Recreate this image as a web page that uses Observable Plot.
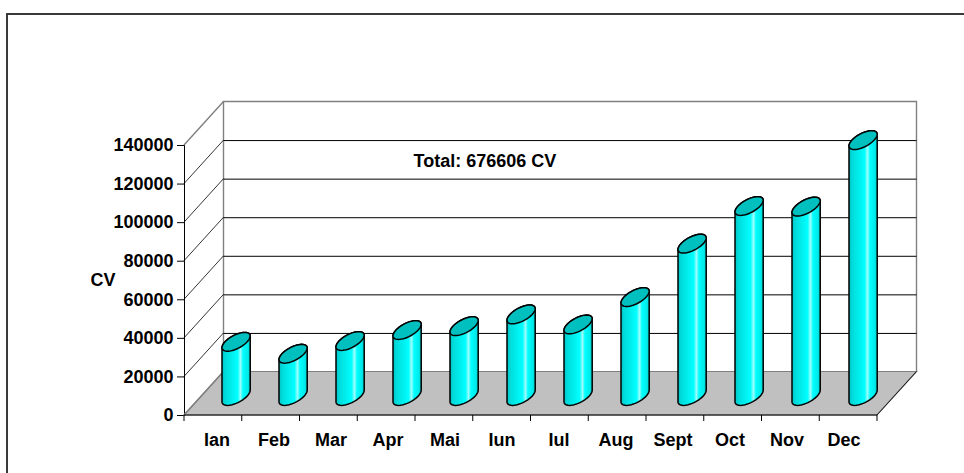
<!DOCTYPE html>
<html><head><meta charset="utf-8">
<script src="https://cdn.jsdelivr.net/npm/d3@7"></script>
<script src="https://cdn.jsdelivr.net/npm/@observablehq/plot@0.6"></script>
<style>
body{margin:0;background:#fff;}
#wrap{position:relative;width:964px;height:473px;overflow:hidden;}
#border{position:absolute;left:6px;top:13px;width:1000px;height:600px;border-left:2px solid #3a3a3a;border-top:2px solid #3a3a3a;}
#chart{position:absolute;left:0;top:0;}
</style></head><body>
<div id="wrap"><div id="border"></div><div id="chart"></div></div>
<script>
// ---- data ----
const months = ["Ian","Feb","Mar","Apr","Mai","Iun","Iul","Aug","Sept","Oct","Nov","Dec"];
const values = [28100, 21900, 28500, 34200, 36200, 42300, 37100, 51300, 79000, 98500, 98200, 132700];
const yTicks = [0, 20000, 40000, 60000, 80000, 100000, 120000, 140000];
const axisTitle = "CV";
const totalLabel = "Total: 676606 CV";

const data = months.map((m, i) => ({month: m, value: values[i]}));

// ---- 3D look (styles) ----
const DEPTH = {dx: 39.5, dy: 43.5};
const CYL = {dx: 19.6, dy: -19, a: 11.1, b: 8.7, c: 9.4};

class Walls extends Plot.Mark {
  constructor(data, options = {}) {
    super(data, {y: {value: options.y, scale: "y"}}, options, {ariaLabel: "walls"});
    this.n = options.n;
  }
  render(index, scales, values, dimensions) {
    const {width, marginLeft: ml, marginRight: mr} = dimensions;
    const Y = Array.from(values.y, v => typeof v === "number" ? v : scales.y(v));
    const x0 = ml, x1 = width - mr;
    const yb = d3.max(Y), yt = d3.min(Y);
    const {dx, dy} = DEPTH;
    const g = d3.create("svg:g");
    g.append("polygon")
      .attr("points", [[x0,yb],[x1,yb],[x1+dx,yb-dy],[x0+dx,yb-dy]].map(p => p.join(",")).join(" "))
      .attr("fill", "#c0c0c0").attr("stroke", "#808080").attr("stroke-width", 1.2);
    g.append("polyline")
      .attr("points", [[x0+dx,yb-dy],[x0+dx,yt-dy],[x1+dx,yt-dy],[x1+dx,yb-dy]].map(p => p.join(",")).join(" "))
      .attr("fill", "none").attr("stroke", "#808080").attr("stroke-width", 1.4);
    for (const i of index) {
      const yy = Y[i];
      const isEdge = yy === yb || yy === yt;
      g.append("line").attr("x1", x0).attr("y1", yy).attr("x2", x0+dx).attr("y2", yy-dy)
        .attr("stroke", isEdge ? "#808080" : "#000").attr("stroke-width", isEdge ? 1.4 : 0.8);
    }
    g.append("line").attr("x1", x0).attr("y1", yb).attr("x2", x1).attr("y2", yb)
      .attr("stroke", "#000").attr("stroke-width", 1);
    g.append("line").attr("x1", x1).attr("y1", yb).attr("x2", x1+dx).attr("y2", yb-dy)
      .attr("stroke", "#000").attr("stroke-width", 0.8);
    const step = (x1 - x0) / this.n;
    for (let k = 0; k <= this.n; k++) {
      g.append("line").attr("x1", x0 + k*step).attr("x2", x0 + k*step)
        .attr("y1", yb).attr("y2", yb + 6).attr("stroke", "#000").attr("stroke-width", 1);
    }
    return g.node();
  }
}

class Cylinders extends Plot.Mark {
  constructor(data, options = {}) {
    super(data, {
      x: {value: options.x, scale: "x"},
      y: {value: options.y, scale: "y"}
    }, options, {ariaLabel: "cylinders"});
  }
  render(index, scales, values, dimensions) {
    const bw = typeof scales.x.bandwidth === "function" ? scales.x.bandwidth() : 0;
    const y0 = scales.y(0);
    const g = d3.create("svg:g");
    const grad = g.append("defs").append("linearGradient").attr("id", "cylGrad")
      .attr("x1", "0").attr("x2", "1").attr("y1", "0").attr("y2", "0");
    [[0, "#00c2c2"], [0.12, "#00dcdc"], [0.35, "#00eeee"], [0.55, "#00ffff"], [0.66, "#9ffcfc"],
     [0.74, "#00ffff"], [0.9, "#00ecec"], [1, "#00d0d0"]]
      .forEach(([o, c]) => grad.append("stop").attr("offset", o).attr("stop-color", c));
    const {a, b, c} = CYL;
    const phi = Math.atan2(b, a);
    for (const i of index) {
      const xv = values.x[i], yv = values.y[i];
      const px = typeof xv === "number" ? xv : scales.x(xv);
      const py = typeof yv === "number" ? yv : scales.y(yv);
      const cx = px + bw / 2 + CYL.dx;
      const ct = py + CYL.dy, cb = y0 + CYL.dy;
      const pt = (t, cy) => [cx + a*Math.cos(t) + b*Math.sin(t), cy - c*Math.sin(t)];
      const N = 24;
      let d = "M" + pt(phi + Math.PI, ct).join(",");
      d += "L" + pt(phi + Math.PI, cb).join(",");
      for (let k = 1; k <= N; k++) d += "L" + pt(phi + Math.PI + Math.PI*k/N, cb).join(",");
      d += "L" + pt(phi, ct).join(",");
      for (let k = 1; k <= N; k++) d += "L" + pt(phi + Math.PI*k/N, ct).join(",");
      d += "Z";
      g.append("path").attr("d", d).attr("fill", "url(#cylGrad)")
        .attr("stroke", "#000").attr("stroke-width", 1.5).attr("stroke-linejoin", "round");
      let e = "M" + pt(0, ct).join(",");
      for (let k = 1; k < 2*N; k++) e += "L" + pt(Math.PI*k/N, ct).join(",");
      e += "Z";
      g.append("path").attr("d", e).attr("fill", "#00bfbf")
        .attr("stroke", "#000").attr("stroke-width", 1.5).attr("stroke-linejoin", "round");
    }
    return g.node();
  }
}

const chart = Plot.plot({
  width: 964, height: 473,
  marginLeft: 184, marginRight: 87, marginTop: 145, marginBottom: 58,
  style: {fontFamily: "'Liberation Sans', Arial, sans-serif", fontSize: "18px", fontWeight: "bold",
          background: "transparent", overflow: "visible", color: "#000"},
  x: {type: "band", domain: months, paddingInner: 0.4875, paddingOuter: 0.24375,
      tickSize: 0, tickPadding: 18, label: null},
  y: {domain: [0, 140000], ticks: yTicks, tickSize: 7, tickPadding: 4, label: null,
      line: true, tickFormat: d => String(d)},
  marks: [
    new Walls(yTicks, {y: d => d, n: months.length}),
    Plot.ruleY(yTicks.filter(d => d > 0 && d < 140000), {dx: DEPTH.dx, dy: -DEPTH.dy, stroke: "#000", strokeWidth: 1}),
    new Cylinders(data, {x: "month", y: "value"}),
    Plot.text([totalLabel], {text: d => d, frameAnchor: "top-left", textAnchor: "start", dx: 229, dy: 9}),
    Plot.text([axisTitle], {text: d => d, frameAnchor: "left", dx: -94})
  ]
});
document.getElementById("chart").appendChild(chart);
</script>
</body></html>
